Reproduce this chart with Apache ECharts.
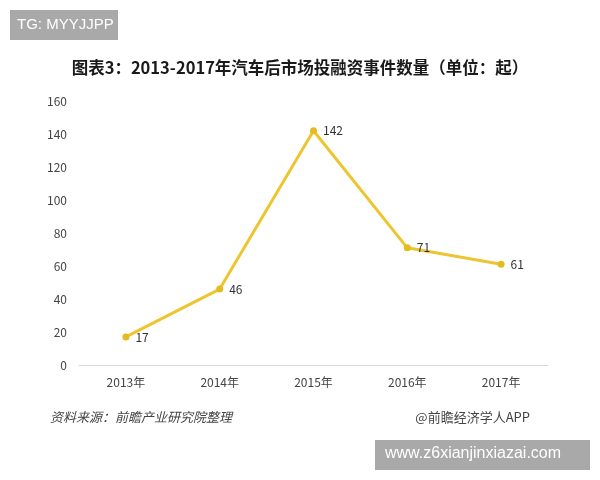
<!DOCTYPE html>
<html><head><meta charset="utf-8">
<script src="https://cdn.jsdelivr.net/npm/echarts@6/dist/echarts.min.js"></script>
<style>html,body{margin:0;padding:0;background:#fff}#c{width:600px;height:480px}</style>
</head><body><div id="c"></div>
<script>
const categories = ['2013年','2014年','2015年','2016年','2017年'];
const values = [17, 46, 142, 71, 61];
const yTicks = [0, 20, 40, 60, 80, 100, 120, 140, 160];

const chart = echarts.init(document.getElementById('c'));
const font = '"Noto Sans CJK SC", "Microsoft YaHei", sans-serif';
chart.setOption({
  backgroundColor: '#fff',
  animation: false,
  title: {
    text: '图表3：2013-2017年汽车后市场投融资事件数量（单位：起）',
    left: 'center', top: 54,
    textStyle: { fontSize: 16.5, fontWeight: 'bold', color: '#1a1a1a', fontFamily: font }
  },
  grid: { left: 79, right: 52, top: 101, bottom: 115 },
  xAxis: {
    type: 'category', data: categories,
    axisLine: { lineStyle: { color: '#d9d9d9', width: 1 } },
    axisTick: { show: false },
    axisLabel: { color: '#444', fontSize: 12, margin: 11, fontFamily: font }
  },
  yAxis: {
    type: 'value', min: yTicks[0], max: yTicks[yTicks.length - 1], interval: 20,
    axisLine: { show: false }, axisTick: { show: false },
    splitLine: { show: false },
    axisLabel: { color: '#444', fontSize: 12, margin: 12, fontFamily: font }
  },
  series: [{
    type: 'line', data: values,
    symbol: 'circle', symbolSize: 7,
    lineStyle: { color: '#EDC530', width: 3 },
    itemStyle: { color: '#E3BC22' },
    label: { show: true, position: 'right', distance: 6, color: '#333', fontSize: 12, fontFamily: font }
  }],
  graphic: [
    { type: 'rect', left: 10, top: 10, shape: { width: 108, height: 30 }, style: { fill: '#a9a9a9' } },
    { type: 'text', left: 17, top: 17, style: { text: 'TG: MYYJJPP', fill: '#fff', fontSize: 15, fontFamily: 'Arial, sans-serif' } },
    { type: 'text', left: 50, top: 411, style: { text: '资料来源：前瞻产业研究院整理', fill: '#444', fontSize: 13, fontStyle: 'italic', fontFamily: font } },
    { type: 'text', right: 70, top: 411, style: { text: '@前瞻经济学人APP', fill: '#444', fontSize: 13, fontFamily: font } },
    { type: 'rect', left: 375, top: 440, shape: { width: 215, height: 30 }, style: { fill: '#a9a9a9' } },
    { type: 'text', left: 385, top: 446, style: { text: 'www.z6xianjinxiazai.com', fill: '#fff', fontSize: 16, fontFamily: 'Arial, sans-serif' } }
  ]
});
</script></body></html>
